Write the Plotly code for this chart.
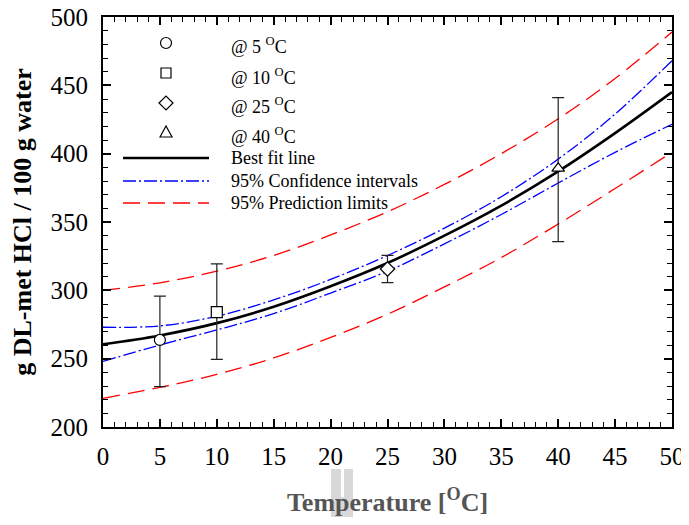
import plotly.graph_objects as go

# Data
temps = [5, 10, 25, 40]
solubility = [263.7, 284.1, 315.6, 389.3]
err_plus = [32.1, 35.2, 10.0, 51.7]
err_minus = [34.2, 34.6, 10.0, 53.7]
symbols = ["circle", "square", "diamond", "triangle-up"]

x_curve = [0, 5, 10, 15, 20, 25, 30, 35, 40, 45, 50]
fit = [260.5, 267, 276, 288, 303, 320, 340, 362, 387, 415, 445]
ci_upper = [273, 274, 281, 293, 308, 325.5, 345.5, 368.5, 396, 429, 468]
ci_lower = [248, 260, 271, 283, 298, 314, 334, 355.5, 378.5, 401, 421.5]
pi_upper = [300, 305.5, 314, 325.5, 340.5, 357.5, 377.5, 400, 425.5, 455, 489]
pi_lower = [221, 229, 238.5, 250.5, 265.5, 282.5, 302.5, 324, 348.5, 374.5, 401]

legend_points = ["@ 5 <sup>O</sup>C", "@ 10 <sup>O</sup>C", "@ 25 <sup>O</sup>C", "@ 40 <sup>O</sup>C"]
legend_lines = ["Best fit line", "95% Confidence intervals", "95% Prediction limits"]

x_ticks = list(range(0, 51, 5))
y_ticks = list(range(200, 501, 50))

x_title = "<b>Temperature [<sup>O</sup>C]</b>"
y_title = "<b>g DL-met HCl / 100 g water</b>"

FONT = "Liberation Serif"
BLUE_DASH = "13px,3px,2px,3px"
RED_DASH = "17px,8px"

fig = go.Figure()

for upper, lower, color, dash in [
    (pi_upper, pi_lower, "#ff0000", RED_DASH),
    (ci_upper, ci_lower, "#0000ff", BLUE_DASH),
]:
    for ys in (upper, lower):
        fig.add_trace(go.Scatter(x=x_curve, y=ys, mode="lines",
                                 line=dict(color=color, width=1.3, dash=dash, shape="spline"),
                                 showlegend=False, hoverinfo="skip"))

fig.add_trace(go.Scatter(x=x_curve, y=fit, mode="lines", line=dict(color="black", width=2.6, shape="spline"),
                         showlegend=False))

for i in range(len(temps)):
    fig.add_trace(go.Scatter(
        x=[temps[i]], y=[solubility[i]], mode="markers",
        marker=dict(symbol=symbols[i], size=11, color="white", line=dict(color="black", width=1.2)),
        error_y=dict(type="data", symmetric=False, array=[err_plus[i]], arrayminus=[err_minus[i]],
                     color="#222", thickness=1.2, width=6),
        showlegend=False))

# Page body has an 8px margin on every side; size the figure to fit inside it
OFF = 8
W, H = 689 - 2 * OFF, 525 - 2 * OFF
SL, SR, ST, SB = 103, 672, 17, 427   # screen-pixel plot-area edges
L, T = SL - OFF, ST - OFF
R = (689 - OFF) - SR
B = (525 - OFF) - SB
pw, ph = SR - SL, SB - ST

def px(x):
    return (x - SL) / pw

def py(y):
    return 1 - (y - ST) / ph

shapes = []
annotations = []

# faint grey scan band behind the x-axis title, as in the reference picture
shapes.append(dict(type="rect", xref="paper", yref="paper", x0=px(331), x1=px(353), y0=py(517), y1=py(469),
                   fillcolor="#d8d8d8", line=dict(width=0), layer="below"))
shapes.append(dict(type="rect", xref="paper", yref="paper", x0=px(341), x1=px(344), y0=py(497), y1=py(469),
                   fillcolor="#ffffff", line=dict(width=0), layer="below"))

row_y = [43, 73, 103, 132]
r = 5.5
cx = 166
for i, yy in enumerate(row_y):
    if i == 0:
        shapes.append(dict(type="circle", xref="paper", yref="paper", x0=px(cx - r), x1=px(cx + r),
                           y0=py(yy + r), y1=py(yy - r), line=dict(color="black", width=1.2)))
    elif i == 1:
        shapes.append(dict(type="rect", xref="paper", yref="paper", x0=px(cx - 5), x1=px(cx + 5),
                           y0=py(yy + 5), y1=py(yy - 5), line=dict(color="black", width=1.2)))
    elif i == 2:
        path = f"M {px(cx-7)},{py(yy)} L {px(cx)},{py(yy-7)} L {px(cx+7)},{py(yy)} L {px(cx)},{py(yy+7)} Z"
        shapes.append(dict(type="path", xref="paper", yref="paper", path=path, line=dict(color="black", width=1.2)))
    else:
        path = f"M {px(cx-6)},{py(yy+5)} L {px(cx)},{py(yy-6)} L {px(cx+6)},{py(yy+5)} Z"
        shapes.append(dict(type="path", xref="paper", yref="paper", path=path, line=dict(color="black", width=1.2)))
    annotations.append(dict(xref="paper", yref="paper", x=px(229), y=py(yy + 3), xanchor="left", yanchor="middle",
                            text=legend_points[i], showarrow=False, font=dict(family=FONT, size=18, color="black")))

line_rows = [158, 181, 203]
line_styles = [dict(color="black", width=2.6), dict(color="#0000ff", width=1.3, dash=BLUE_DASH),
               dict(color="#ff0000", width=1.3, dash=RED_DASH)]
for i, yy in enumerate(line_rows):
    shapes.append(dict(type="line", xref="paper", yref="paper", x0=px(123), x1=px(209), y0=py(yy), y1=py(yy),
                       line=line_styles[i]))
    annotations.append(dict(xref="paper", yref="paper", x=px(229), y=py(yy), xanchor="left", yanchor="middle",
                            text=legend_lines[i], showarrow=False, font=dict(family=FONT, size=18, color="black")))

axis_common = dict(showline=True, linecolor="black", linewidth=2, mirror="allticks", ticks="inside",
                   tickcolor="black", tickwidth=1.5, ticklen=8, showgrid=False, zeroline=False, automargin=False,
                   ticklabeloverflow="allow",
                   tickfont=dict(family=FONT, size=25, color="black"))

fig.update_layout(
    width=W, height=H,
    margin=dict(l=L, r=R, t=T, b=B),
    paper_bgcolor="white", plot_bgcolor="white",
    xaxis=dict(range=[0, 50], tickvals=x_ticks, ticklabelstandoff=6,
               minor=dict(dtick=1, ticks="inside", ticklen=5, tickcolor="black", tickwidth=1.2),
               title=dict(text=x_title, font=dict(family=FONT, size=26, color="#555"), standoff=37),
               **axis_common),
    yaxis=dict(range=[200, 500], tickvals=y_ticks, ticklabelstandoff=8,
               minor=dict(dtick=10, ticks="inside", ticklen=5, tickcolor="black", tickwidth=1.2),
               title=dict(text=y_title, font=dict(family=FONT, size=26, color="black"), standoff=14),
               **axis_common),
    shapes=shapes, annotations=annotations,
    showlegend=False,
)

fig.write_html("out.html")
